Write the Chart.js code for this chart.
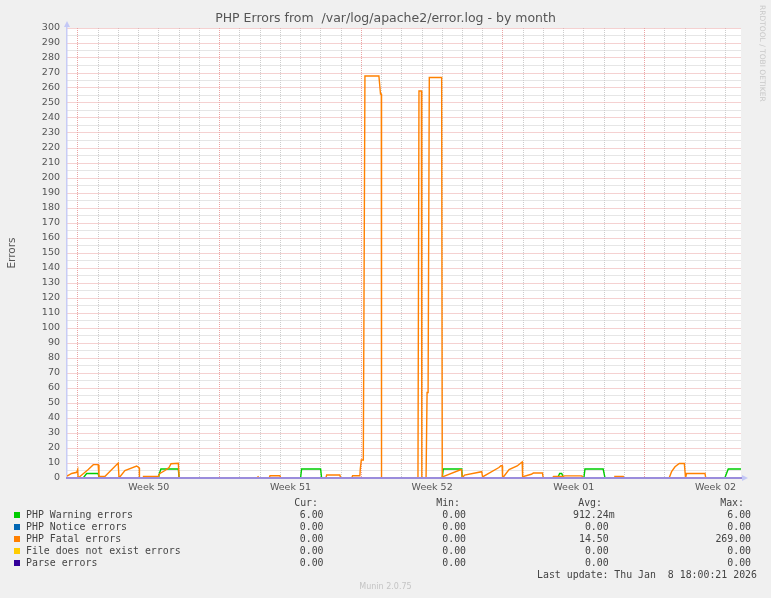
<!DOCTYPE html>
<html>
<head>
<meta charset="utf-8">
<script src="https://cdn.jsdelivr.net/npm/chart.js@4/dist/chart.umd.min.js"></script>
<style>
  html, body { margin: 0; padding: 0; background: #f0f0f0; }
  #wrap { position: relative; width: 771px; height: 598px; overflow: hidden; }
  #c { position: absolute; left: 0; top: 0; }
  .lg { position: absolute; font: 9.9px 'DejaVu Sans Mono', monospace; color: #444; white-space: pre; line-height: 12px; }
  .sq { position: absolute; width: 6px; height: 6px; }
  #munin { position: absolute; left: 0; width: 771px; top: 582px; text-align: center; font: 8px 'DejaVu Sans', sans-serif; color: #c4c4c4; line-height: 10px; }
</style>
</head>
<body>
<div id="wrap">
  <canvas id="c" width="771" height="598"></canvas>
  <div id="munin">Munin 2.0.75</div>
</div>
<script>
// x values are days counted from the start of week 50
const TITLE = 'PHP Errors from  /var/log/apache2/error.log - by month';
const weekLabels = ['Week 50', 'Week 51', 'Week 52', 'Week 01', 'Week 02'];
const weekCenters = [3.5, 10.5, 17.5, 24.5, 31.5];
const X_MIN = -0.54, X_MAX = 32.76;

const warnDays = [-0.54, 0.26, 0.43, 1.0, 1.05, 3.97, 4.0, 4.1, 4.96, 5.0, 11.0, 11.05, 11.99, 12.04,
  18.0, 18.05, 18.96, 18.99, 23.7, 23.8, 23.9, 24.0, 25.0, 25.05, 25.95, 26.04, 31.96, 32.13, 32.76];
const warnValues = [0, 0, 3, 3, 0, 0, 2, 6, 6, 0, 0, 6, 6, 0,
  0, 6, 6, 0, 0, 3, 3, 0, 0, 6, 6, 0, 0, 6, 6];

const fatalDays = [-0.54, -0.31, -0.06, -0.01, 0.01, 0.1, 0.51, 0.76, 1.0, 1.04, 1.09, 1.33, 1.99, 2.03,
  2.32, 2.9, 3.03, 3.04, 3.23, 3.24, 3.97, 4.05, 4.3, 4.5, 4.6, 4.96, 5.0,
  8.85, 8.9, 8.95, 9.45, 9.49, 9.98, 10.02, 12.25, 12.29, 12.94, 12.98,
  13.53, 13.57, 13.93, 13.95, 14.0, 14.1, 14.18, 14.87, 14.95, 14.99, 15.0,
  16.8, 16.85, 16.97, 16.99, 17.2, 17.25, 17.3, 17.36, 17.97, 18.0,
  18.08, 18.9, 18.95, 18.99, 19.1, 19.95, 20.0, 20.04, 20.8, 20.9, 20.96, 20.98,
  21.04, 21.3, 21.7, 21.95, 21.97, 22.0, 22.4, 22.5, 22.95, 22.99,
  23.45, 23.5, 23.95, 24.05, 24.9, 24.95, 26.5, 26.53, 26.94, 26.98,
  29.21, 29.33, 29.5, 29.71, 29.96, 30.02, 30.07, 30.98, 31.02, 32.76];
const fatalValues = [1.3, 3, 3.8, 5.6, 0, 1, 5.6, 8.9, 8.9, 0.5, 1, 1, 10, 0,
  4.9, 8, 6.7, 0, 0, 1.1, 1.1, 3, 5, 7, 9.5, 9.8, 0,
  0, 0.8, 0, 0, 1.5, 1.5, 0, 0, 2, 2, 0,
  0, 1.5, 1.5, 6, 12, 12, 268, 268, 256, 256, 0,
  0, 258, 258, 0, 0, 57, 57, 267, 267, 0,
  1.1, 5.5, 5.5, 0, 1.9, 4.2, 0, 1.1, 7, 8.2, 8.2, 0,
  1, 5.6, 8, 10.7, 0, 1, 2.5, 3.3, 3.3, 0,
  0, 1, 1, 1.4, 1.4, 0, 0, 1.1, 1.1, 0,
  0, 4.2, 7.5, 9.7, 9.7, 0, 3, 3, 0, 0];

const zeroDays = [-0.54, 32.76];
const zeroValues = [0, 0];

const legendNames = ['PHP Warning errors', 'PHP Notice errors', 'PHP Fatal errors', 'File does not exist errors', 'Parse errors'];
const legendColors = ['#00cc00', '#0066b3', '#ff8000', '#ffcc00', '#330099'];
const colHeads = ['Cur:', 'Min:', 'Avg:', 'Max:'];
const curVals = ['6.00', '0.00', '0.00', '0.00', '0.00'];
const minVals = ['0.00', '0.00', '0.00', '0.00', '0.00'];
const avgVals = ['912.24m', '0.00', '14.50', '0.00', '0.00'];
const maxVals = ['6.00', '0.00', '269.00', '0.00', '0.00'];
const lastUpdate = 'Last update: Thu Jan  8 18:00:21 2026';

const MAJOR = '#eba3a3';
const MINOR = '#cdcdcd';
const TICK_FONT = {family: 'DejaVu Sans', size: 9.5};

function pts(xs, ys) {
  return xs.map((x, i) => ({x: x, y: ys[i]}));
}

function line(label, xs, ys, color, order) {
  return {
    label: label,
    data: pts(xs, ys),
    borderColor: color,
    borderWidth: 1.4,
    pointRadius: 0,
    tension: 0,
    fill: false,
    order: order
  };
}

const frame = {
  id: 'frame',
  beforeDraw(chart) {
    const {ctx, chartArea: a} = chart;
    ctx.save();
    ctx.fillStyle = '#f0f0f0';
    ctx.fillRect(0, 0, chart.width, chart.height);
    ctx.fillStyle = '#ffffff';
    ctx.fillRect(a.left, a.top, a.right - a.left, a.bottom - a.top);
    ctx.restore();
  },
  afterDraw(chart) {
    const {ctx, chartArea: a} = chart;
    ctx.save();
    ctx.fillStyle = '#c4c8f6';
    ctx.beginPath();
    ctx.moveTo(a.left - 3, a.top - 1);
    ctx.lineTo(a.left + 3, a.top - 1);
    ctx.lineTo(a.left, a.top - 7);
    ctx.closePath();
    ctx.fill();
    ctx.beginPath();
    ctx.moveTo(a.right + 1, a.bottom - 3);
    ctx.lineTo(a.right + 1, a.bottom + 3);
    ctx.lineTo(a.right + 7, a.bottom);
    ctx.closePath();
    ctx.fill();
    ctx.translate(762, 5);
    ctx.rotate(Math.PI / 2);
    ctx.fillStyle = '#c8c8c8';
    ctx.font = '7.5px "DejaVu Sans"';
    ctx.textAlign = 'left';
    ctx.textBaseline = 'middle';
    ctx.fillText('RRDTOOL / TOBI OETIKER', 0, 0);
    ctx.restore();
  }
};

const dayTicks = Array.from({length: 33}, (_, i) => i);

new Chart(document.getElementById('c'), {
  type: 'line',
  data: {
    datasets: [
      line(legendNames[0], warnDays, warnValues, legendColors[0], 5),
      line(legendNames[1], zeroDays, zeroValues, legendColors[1], 4),
      line(legendNames[2], fatalDays, fatalValues, legendColors[2], 3),
      line(legendNames[3], zeroDays, zeroValues, legendColors[3], 2),
      line(legendNames[4], zeroDays, zeroValues, legendColors[4], 1)
    ]
  },
  options: {
    responsive: false,
    animation: false,
    layout: {padding: {left: 0, right: 0, top: 0, bottom: 100}},
    plugins: {
      legend: {display: false},
      tooltip: {enabled: false},
      title: {
        display: true,
        text: TITLE,
        color: '#555',
        font: {family: 'DejaVu Sans', size: 12.5, weight: 'normal'},
        padding: {top: 11.5, bottom: 1.5}
      }
    },
    scales: {
      x: {
        type: 'linear',
        min: X_MIN,
        max: X_MAX,
        afterBuildTicks: s => {
          s.ticks = dayTicks.concat(weekCenters).sort((a, b) => a - b).map(v => ({value: v}));
        },
        afterFit: s => { s.height = 20; },
        ticks: {
          autoSkip: false,
          maxRotation: 0,
          padding: 4,
          color: '#555',
          font: TICK_FONT,
          callback: v => {
            const i = weekCenters.indexOf(v);
            return i >= 0 ? weekLabels[i] : '';
          }
        },
        grid: {
          drawTicks: false,
          color: c => {
            const v = c.tick ? c.tick.value : 0;
            if (!Number.isInteger(v)) return 'rgba(0,0,0,0)';
            return v % 7 === 0 ? MAJOR : MINOR;
          }
        },
        border: {display: true, color: '#9a8cdc', width: 2, z: 1, dash: [1, 1]}
      },
      y: {
        min: 0,
        max: 300,
        afterFit: s => { s.width = 67; },
        ticks: {
          stepSize: 5,
          autoSkip: false,
          padding: 7,
          color: '#555',
          font: TICK_FONT,
          callback: v => (v % 10 === 0 ? v : '')
        },
        grid: {
          drawTicks: false,
          color: c => (c.tick && c.tick.value % 10 === 0 ? MAJOR : MINOR)
        },
        border: {display: true, color: '#c8ccf6', width: 1.5, dash: [1, 1]},
        title: {
          display: true,
          text: 'Errors',
          color: '#555',
          font: {family: 'DejaVu Sans', size: 10.5},
          padding: {top: 6, bottom: 0}
        }
      },
      // empty strip on the right so the plot ends where the reference does
      side: {
        position: 'right',
        afterFit: s => { s.width = 30; },
        ticks: {display: false},
        grid: {display: false, drawOnChartArea: false},
        border: {display: false}
      }
    }
  },
  plugins: [frame]
});

// legend table under the plot
const wrap = document.getElementById('wrap');
const W = 771;
const valueEdges = [329.5, 472, 614.6, 757];
const headEdges = [318, 460, 602, 744];

function addText(text, top, opts) {
  const d = document.createElement('div');
  d.className = 'lg';
  d.textContent = text;
  d.style.top = top + 'px';
  if (opts.right !== undefined) {
    d.style.right = (W - opts.right) + 'px';
    d.style.textAlign = 'right';
  } else {
    d.style.left = opts.left + 'px';
  }
  wrap.appendChild(d);
}

colHeads.forEach((h, j) => addText(h, 497, {right: headEdges[j]}));

legendNames.forEach((name, i) => {
  const top = 509 + 12 * i;
  const sq = document.createElement('div');
  sq.className = 'sq';
  sq.style.left = '14px';
  sq.style.top = (top + 3) + 'px';
  sq.style.background = legendColors[i];
  wrap.appendChild(sq);
  addText(name, top, {left: 26});
  [curVals, minVals, avgVals, maxVals].forEach((col, j) => {
    const v = col[i];
    addText(/[a-z]$/i.test(v) ? v : v + ' ', top, {right: valueEdges[j]});
  });
});

addText(lastUpdate, 569, {right: 757});
</script>
</body>
</html>
